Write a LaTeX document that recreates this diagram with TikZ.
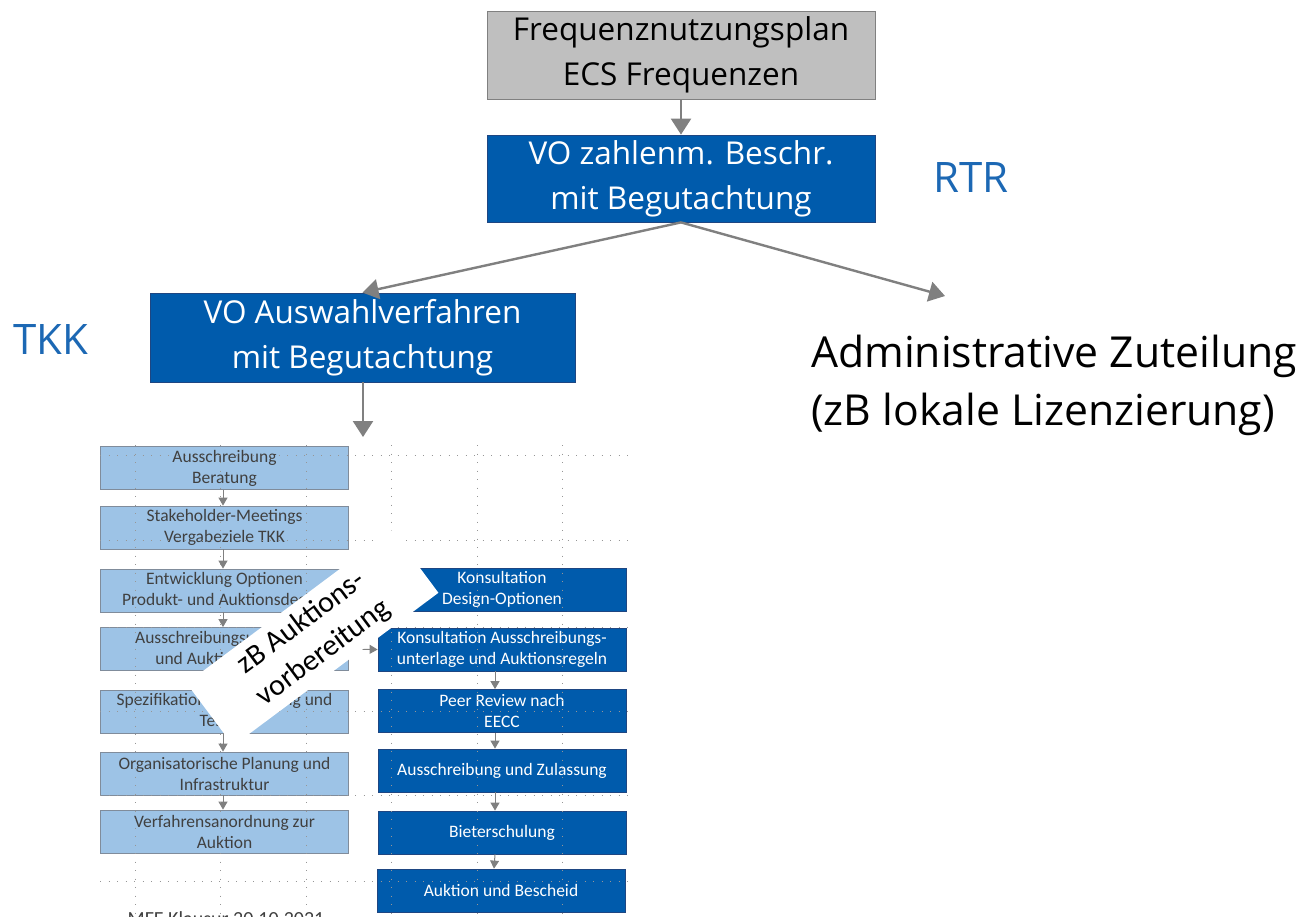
\documentclass[tikz,border=0pt]{standalone}
\usepackage{fontspec}
\setmainfont{Carlito}
\newfontfamily\seg{Open Sans}
\usetikzlibrary{arrows.meta}
\definecolor{dblue}{RGB}{0,91,172}
\definecolor{dborder}{RGB}{30,70,130}
\definecolor{lblue}{RGB}{157,195,230}
\definecolor{lborder}{RGB}{128,140,155}
\definecolor{ggray}{RGB}{191,191,191}
\definecolor{accent}{RGB}{28,104,180}
\definecolor{txtgray}{RGB}{64,64,64}
\definecolor{arrgray}{RGB}{128,128,128}
\definecolor{dotgray}{RGB}{150,150,150}
\tikzset{
  bigbox/.style={draw, line width=0.8pt, align=center, inner sep=0pt,
    font=\seg\fontsize{31.5}{45}\selectfont},
  graybox/.style={bigbox, fill=ggray, draw=arrgray, text=black},
  bluebox/.style={bigbox, fill=dblue, draw=dborder, text=white},
  bigarrow/.style={draw=arrgray, line width=2.4pt, -{Triangle[length=16pt,width=20pt]}},
  smallbox/.style={draw, line width=0.8pt, align=center, inner sep=0pt,
    minimum width=248pt, minimum height=43pt,
    font=\fontsize{17.5}{21}\selectfont},
  lbox/.style={smallbox, fill=lblue, draw=lborder, text=txtgray},
  rbox/.style={smallbox, fill=dblue, draw=dborder, text=white},
  smallarrow/.style={draw=arrgray, line width=1pt, -{Triangle[length=8pt,width=9pt]}},
  gridline/.style={draw=dotgray, line width=0.9pt, dash pattern=on 0.9pt off 7.6pt},
  sidelabel/.style={text=accent, font=\seg\fontsize{42}{50}\selectfont, inner sep=0pt}
}
\begin{document}
\begin{tikzpicture}[x=1pt,y=-1pt]
\useasboundingbox (0,0) rectangle (1305,916);
\fill[white] (0,0) rectangle (1305,916);

% upper part
\node[graybox, minimum width=388pt, minimum height=88pt] (fnp) at (681,55) {Frequenznutzungsplan\\ECS Frequenzen};
\node[bluebox, minimum width=388pt, minimum height=87pt] (vozb) at (681,178.5) {VO zahlenm. Beschr.\\mit Begutachtung};
\node[bluebox, minimum width=425pt, minimum height=89pt] (voaw) at (362.5,337.5) {VO Auswahlverfahren\\mit Begutachtung};
\node[sidelabel] (rtr) at (971,178) {RTR};
\node[sidelabel] (tkk) at (51,340) {TKK};
\node[anchor=west, align=left, inner sep=0pt, text=black,
  font=\seg\fontsize{42.7}{58}\selectfont] (adm) at (811,385)
  {Administrative Zuteilung\\(zB lokale Lizenzierung)};
\coordinate (admtip) at (945,296);
\coordinate (flowtip) at (363,437);

\draw[bigarrow] (fnp.south) -- (vozb.north);
\draw[bigarrow] (vozb.south) -- (voaw.north);
\draw[bigarrow] (vozb.south) -- (admtip);
\draw[bigarrow] ([xshift=0.5pt]voaw.south) -- (flowtip);

% lower flowchart, left column
\node[lbox] (l1) at (224.5,468) {Ausschreibung\\Beratung};
\node[lbox] (l2) at (224.5,527.5) {Stakeholder-Meetings\\Vergabeziele TKK};
\node[lbox] (l3) at (224.5,590.5) {Entwicklung Optionen\\Produkt- und Auktionsdesign};
\node[lbox] (l4) at (224.5,649) {Ausschreibungsunterlage\\und Auktionsregeln};
\node[lbox] (l5) at (224.5,711.5) {Spezifikation, Entwicklung und\\Testing};
\node[lbox] (l6) at (224.5,773.5) {Organisatorische Planung und\\Infrastruktur};
\node[lbox] (l7) at (224.5,831.5) {Verfahrensanordnung zur\\Auktion};

% right column
\node[rbox] (r1) at (502,589.5) {Konsultation\\Design-Optionen};
\node[rbox] (r2) at (502,649.5) {Konsultation Ausschreibungs-\\unterlage und Auktionsregeln};
\node[rbox] (r3) at (502,711) {Peer Review nach\\EECC};
\node[rbox] (r4) at (502,770.5) {Ausschreibung und Zulassung};
\node[rbox] (r5) at (502,832.5) {Bieterschulung};
\node[rbox] (r6) at (501,890.5) {Auktion und Bescheid};

\foreach \a/\b in {l1/l2,l2/l3,l3/l4,l4/l5,l5/l6,l6/l7}
  \draw[smallarrow] ([xshift=-1.5pt]\a.south) -- ([xshift=-1.5pt]\b.north);
\foreach \a/\b in {r2/r3,r3/r4,r4/r5,r5/r6}
  \draw[smallarrow] ([xshift=-7pt]\a.south) -- ([xshift=-7pt]\b.north);
\draw[smallarrow] (l4.east) -- (r2.west);

% dotted grid
\foreach \yy in {455,540,627,711,795,881}
  \draw[gridline] (100,\yy) -- (633,\yy);
\foreach \xx in {135,220.5,306,391,477,562}
  \draw[gridline] (\xx,445) -- (\xx,916);

% white banner
\node[fill=white, rotate=36.7, minimum width=256pt, minimum height=78pt,
  inner sep=0pt, align=center, text=black,
  font=\fontsize{30}{37}\selectfont] (banner) at (312.5,638)
  {zB Auktions-\\vorbereitung};

% footer (cut off)
\node[anchor=base, inner sep=0pt, text=txtgray, font=\fontsize{20}{22}\selectfont] (footer) at (226,925) {MFE Klausur 20.10.2021};
\end{tikzpicture}
\end{document}
